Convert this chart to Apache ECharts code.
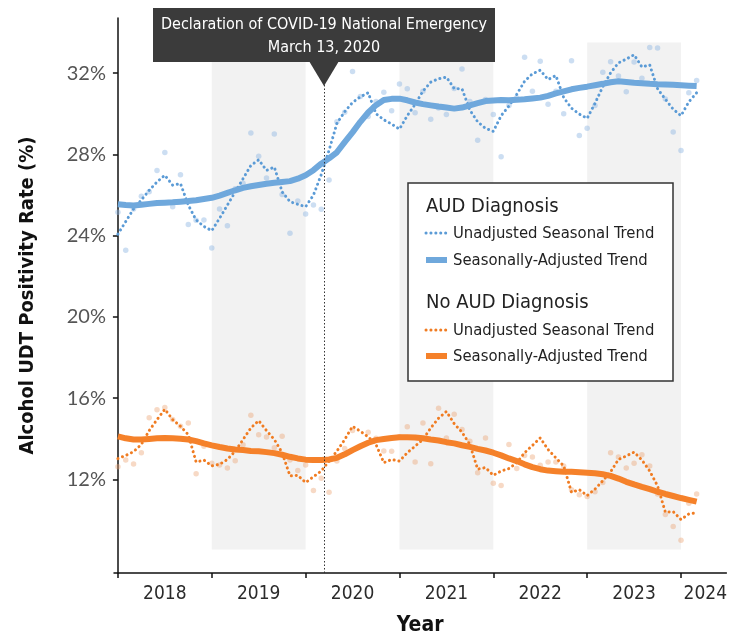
<!DOCTYPE html>
<html>
  <head>
    <meta charset="utf-8">
    <script src="https://cdn.jsdelivr.net/npm/echarts@6.0.0/dist/echarts.min.js"></script>
    <style>html, body { margin: 0; padding: 0; background: #fff; }</style>
  </head>
  <body>
    <div id="main" style="width: 730px; height: 641px;"></div>
    <script type="text/javascript">
      // monthly values, Jan 2018 .. Mar 2024 (index 0 = Jan 2018)
      var yearLabels = ['2018', '2019', '2020', '2021', '2022', '2023', '2024'];
      var yTicks = [12, 16, 20, 24, 28, 32];
      var yearStarts = [0, 12, 24, 36, 48, 60, 72];
      var yearLabelPos = [6, 18, 30, 42, 54, 66, 75.1];
      var shadedYears = [[12, 24], [36, 48], [60, 72]];
      var emergencyMonth = 26.39; // March 13, 2020

      var audRaw = [
        25.15, 23.28, 25.31, 25.94, 26.16, 27.2, 28.09, 25.42, 27.0, 24.55, 24.75, 24.77,
        23.39, 25.31, 24.48, 26.3, 26.58, 29.05, 27.9, 26.84, 29.0, 26.02, 24.12, 25.7,
        25.06, 25.5, 25.29, 26.74, 29.6, 30.07, 32.08, 30.84, 29.86, 30.6, 31.05, 30.14,
        31.46, 31.23, 30.04, 31.11, 29.73, 30.28, 29.96, 31.24, 32.2, 30.6, 28.69, 30.7,
        29.96, 27.88, 30.4, 30.79, 32.78, 31.11, 32.58, 30.46, 31.1, 30.0, 32.6, 28.92,
        29.28, 30.4, 32.04, 32.56, 31.85, 31.08, 32.55, 31.75, 33.26, 33.23, 30.72, 29.1,
        28.19, 31.03, 31.63
      ];
      var audSeasonal = [
        24.07, 24.69, 25.31, 25.75, 26.23, 26.64, 26.97, 26.48, 26.56, 25.5, 24.77, 24.45,
        24.24, 24.85, 25.5, 26.15, 26.8, 27.45, 27.73, 27.21, 27.37, 26.15, 25.67, 25.54,
        25.42, 25.99, 27.0, 28.2, 29.52, 30.1, 30.55, 30.83, 31.03, 30.0, 29.7, 29.49,
        29.24, 29.9, 30.46, 31.11, 31.55, 31.72, 31.8, 31.24, 31.22, 30.18, 29.6, 29.28,
        29.13, 29.9, 30.38, 30.95, 31.6, 31.96, 32.14, 31.68, 31.88, 30.79, 30.27, 29.98,
        29.77, 30.51, 31.33, 32.01, 32.5, 32.69, 32.9, 32.3, 32.4, 31.23, 30.71, 30.22,
        29.9, 30.58, 31.03
      ];
      var audAdjusted = [
        25.54, 25.5, 25.48, 25.52, 25.56, 25.6, 25.62, 25.64, 25.67, 25.7, 25.74, 25.8,
        25.86, 25.97, 26.1, 26.23, 26.35, 26.43, 26.49, 26.55, 26.6, 26.64, 26.68, 26.8,
        26.97, 27.22, 27.54, 27.8, 28.1, 28.6, 29.08, 29.6, 30.06, 30.42, 30.67, 30.73,
        30.74, 30.66, 30.55, 30.47, 30.41, 30.35, 30.3, 30.25, 30.3, 30.41, 30.52, 30.62,
        30.65, 30.67, 30.66, 30.68, 30.71, 30.75, 30.79, 30.88, 31.0, 31.1, 31.2, 31.27,
        31.33, 31.4, 31.47, 31.55, 31.6, 31.56, 31.52, 31.5, 31.47, 31.45, 31.44, 31.42,
        31.4, 31.38, 31.36
      ];
      var noAudRaw = [
        12.62, 12.95, 12.76, 13.31, 15.03, 15.42, 15.54, 14.94, 14.61, 14.77, 12.28, 13.63,
        12.79, 12.71, 12.56, 12.92, 13.7, 15.15, 14.19, 14.09, 13.55, 14.12, 12.95, 12.43,
        12.71, 11.45, 12.06, 11.36, 12.9, 13.52, 14.4, 13.63, 14.32, 14.02, 13.4, 13.38,
        14.1, 14.59, 12.85, 14.77, 12.77, 15.5, 14.04, 15.2, 14.45, 13.88, 12.33, 14.04,
        11.81, 11.7, 13.72, 12.53, 13.18, 13.1, 12.7, 12.85, 12.85, 12.66, 11.49, 11.24,
        11.15, 11.39, 11.84, 13.31, 13.1, 12.56, 12.79, 13.21, 12.66, 11.28, 10.27, 9.68,
        9.0, 10.82, 11.28
      ];
      var noAudSeasonal = [
        13.02, 13.18, 13.36, 13.72, 14.4, 14.94, 15.45, 14.94, 14.61, 14.2, 12.85, 12.95,
        12.66, 12.74, 12.98, 13.39, 13.96, 14.53, 14.89, 14.4, 13.96, 13.31, 12.17, 12.2,
        11.84, 12.13, 12.41, 12.9, 13.39, 13.96, 14.61, 14.37, 14.09, 13.72, 12.82, 12.98,
        12.9, 13.31, 13.63, 13.96, 14.53, 15.01, 15.34, 14.74, 14.32, 13.72, 12.5, 12.58,
        12.2, 12.41, 12.53, 12.82, 13.31, 13.67, 14.04, 13.47, 13.06, 12.66, 11.36, 11.49,
        11.2, 11.52, 11.93, 12.37, 12.98, 13.15, 13.34, 12.95, 12.41, 11.68, 10.38, 10.41,
        10.02, 10.3, 10.35
      ];
      var noAudAdjusted = [
        14.12, 14.02, 13.96, 13.96, 13.99, 14.02, 14.04, 14.02, 14.0, 13.96, 13.88, 13.77,
        13.67, 13.59, 13.52, 13.47, 13.44, 13.4, 13.38, 13.34, 13.29, 13.21, 13.11, 13.03,
        12.97, 12.95, 12.95, 12.98, 13.06, 13.23, 13.44, 13.63, 13.8, 13.93, 13.99, 14.04,
        14.07, 14.07, 14.06, 14.02, 13.96, 13.91, 13.83, 13.77, 13.68, 13.6, 13.5, 13.42,
        13.31, 13.18, 13.03, 12.9, 12.74, 12.6, 12.5, 12.43, 12.4, 12.37, 12.37, 12.35,
        12.33, 12.3, 12.25, 12.17, 12.04, 11.88, 11.75, 11.63, 11.52, 11.39, 11.28, 11.18,
        11.08, 10.99, 10.9
      ];

      var blue = '#6fa8dc', blueDot = '#5b9bd6', blueRaw = 'rgba(140,180,225,0.55)';
      var orange = '#f5812a', orangeDot = '#f07c22', orangeRaw = 'rgba(235,160,110,0.5)';
      var narrow = '"DejaVu Sans Condensed", "DejaVu Sans", sans-serif';
      var dots = [0.1, 4.8];

      function toPoints(arr) {
        return arr.map(function (v, i) { return [i, v]; });
      }

      var myChart = echarts.init(document.getElementById('main'));

      var option = {
        animation: false,
        grid: { left: 114, right: 3, top: 18, bottom: 63 },
        xAxis: {
          type: 'value',
          min: -0.5,
          max: 77.8,
          name: 'Year',
          nameLocation: 'middle',
          nameGap: 42,
          nameTextStyle: { fontFamily: narrow, fontWeight: 'bold', fontSize: 21, color: '#111' },
          axisLine: { lineStyle: { color: '#111', width: 1.5 } },
          axisTick: { show: true, customValues: yearStarts, length: 5, lineStyle: { color: '#111', width: 1.5 } },
          axisLabel: {
            customValues: yearLabelPos,
            formatter: function (v) { return yearLabels[Math.floor(v / 12)]; },
            fontFamily: narrow, fontSize: 19, color: '#2b2b2b', margin: 12
          },
          splitLine: { show: false }
        },
        yAxis: {
          type: 'value',
          min: 7.39,
          max: 34.71,
          name: 'Alcohol UDT Positivity Rate (%)',
          nameLocation: 'middle',
          nameGap: 76,
          nameTextStyle: { fontFamily: narrow, fontWeight: 'bold', fontSize: 20, color: '#111' },
          axisLine: { show: true, lineStyle: { color: '#111', width: 1.5 } },
          axisTick: { show: true, customValues: yTicks, length: 5, lineStyle: { color: '#111', width: 1.5 } },
          axisLabel: {
            customValues: yTicks,
            formatter: function (v) { return v + '%'; },
            fontFamily: 'Lato, sans-serif', fontSize: 20, color: '#555', margin: 8
          },
          splitLine: { show: false }
        },
        series: [
          {
            // shaded years + emergency line
            type: 'line',
            data: [],
            z: 1,
            silent: true,
            markArea: {
              silent: true,
              itemStyle: { color: '#f2f2f2' },
              data: shadedYears.map(function (r) {
                return [{ xAxis: r[0], yAxis: 8.55 }, { xAxis: r[1], yAxis: 33.5 }];
              })
            },
            markLine: {
              silent: true,
              symbol: 'none',
              label: { show: false },
              lineStyle: { color: '#333', width: 1, type: [1.5, 2] },
              data: [{ xAxis: emergencyMonth }]
            }
          },
          {
            name: 'AUD raw', type: 'scatter', data: toPoints(audRaw), z: 2,
            symbolSize: 5.5, itemStyle: { color: blueRaw }
          },
          {
            name: 'No AUD raw', type: 'scatter', data: toPoints(noAudRaw), z: 2,
            symbolSize: 5.5, itemStyle: { color: orangeRaw }
          },
          {
            name: 'AUD unadjusted', type: 'line', data: toPoints(audSeasonal), z: 3,
            showSymbol: false, lineStyle: { color: blueDot, width: 3, type: dots, cap: 'round' }
          },
          {
            name: 'No AUD unadjusted', type: 'line', data: toPoints(noAudSeasonal), z: 3,
            showSymbol: false, lineStyle: { color: orangeDot, width: 3, type: dots, cap: 'round' }
          },
          {
            name: 'AUD adjusted', type: 'line', data: toPoints(audAdjusted), z: 4,
            showSymbol: false, lineStyle: { color: blue, width: 6 }
          },
          {
            name: 'No AUD adjusted', type: 'line', data: toPoints(noAudAdjusted), z: 4,
            showSymbol: false, lineStyle: { color: orange, width: 6 }
          }
        ],
        graphic: [
          // annotation callout
          { type: 'rect', z: 100, shape: { x: 153, y: 8, width: 342, height: 54 }, style: { fill: '#3b3b3b' } },
          { type: 'polygon', z: 100, shape: { points: [[309, 61], [339, 61], [324, 86]] }, style: { fill: '#3b3b3b' } },
          { type: 'text', z: 101, x: 324, y: 25, style: { text: 'Declaration of COVID-19 National Emergency', font: '16px ' + narrow, fill: '#fff', align: 'center', verticalAlign: 'middle' } },
          { type: 'text', z: 101, x: 324, y: 48, style: { text: 'March 13, 2020', font: '16px ' + narrow, fill: '#fff', align: 'center', verticalAlign: 'middle' } },
          // legend
          { type: 'rect', z: 100, shape: { x: 408, y: 183, width: 265, height: 198 }, style: { fill: '#fff', stroke: '#333', lineWidth: 1.5 } },
          { type: 'text', z: 101, x: 426, y: 207, style: { text: 'AUD Diagnosis', font: '20px ' + narrow, fill: '#222', verticalAlign: 'middle' } },
          { type: 'line', z: 101, shape: { x1: 426, y1: 233, x2: 447, y2: 233 }, style: { stroke: blueDot, lineWidth: 3, lineDash: dots, lineCap: 'round' } },
          { type: 'text', z: 101, x: 453, y: 234, style: { text: 'Unadjusted Seasonal Trend', font: '16.5px ' + narrow, fill: '#222', verticalAlign: 'middle' } },
          { type: 'line', z: 101, shape: { x1: 426, y1: 260, x2: 447, y2: 260 }, style: { stroke: blue, lineWidth: 6 } },
          { type: 'text', z: 101, x: 453, y: 261, style: { text: 'Seasonally-Adjusted Trend', font: '16.5px ' + narrow, fill: '#222', verticalAlign: 'middle' } },
          { type: 'text', z: 101, x: 426, y: 303, style: { text: 'No AUD Diagnosis', font: '20px ' + narrow, fill: '#222', verticalAlign: 'middle' } },
          { type: 'line', z: 101, shape: { x1: 426, y1: 330, x2: 447, y2: 330 }, style: { stroke: orangeDot, lineWidth: 3, lineDash: dots, lineCap: 'round' } },
          { type: 'text', z: 101, x: 453, y: 331, style: { text: 'Unadjusted Seasonal Trend', font: '16.5px ' + narrow, fill: '#222', verticalAlign: 'middle' } },
          { type: 'line', z: 101, shape: { x1: 426, y1: 356, x2: 447, y2: 356 }, style: { stroke: orange, lineWidth: 6 } },
          { type: 'text', z: 101, x: 453, y: 357, style: { text: 'Seasonally-Adjusted Trend', font: '16.5px ' + narrow, fill: '#222', verticalAlign: 'middle' } }
        ]
      };

      myChart.setOption(option);
    </script>
  </body>
</html>
